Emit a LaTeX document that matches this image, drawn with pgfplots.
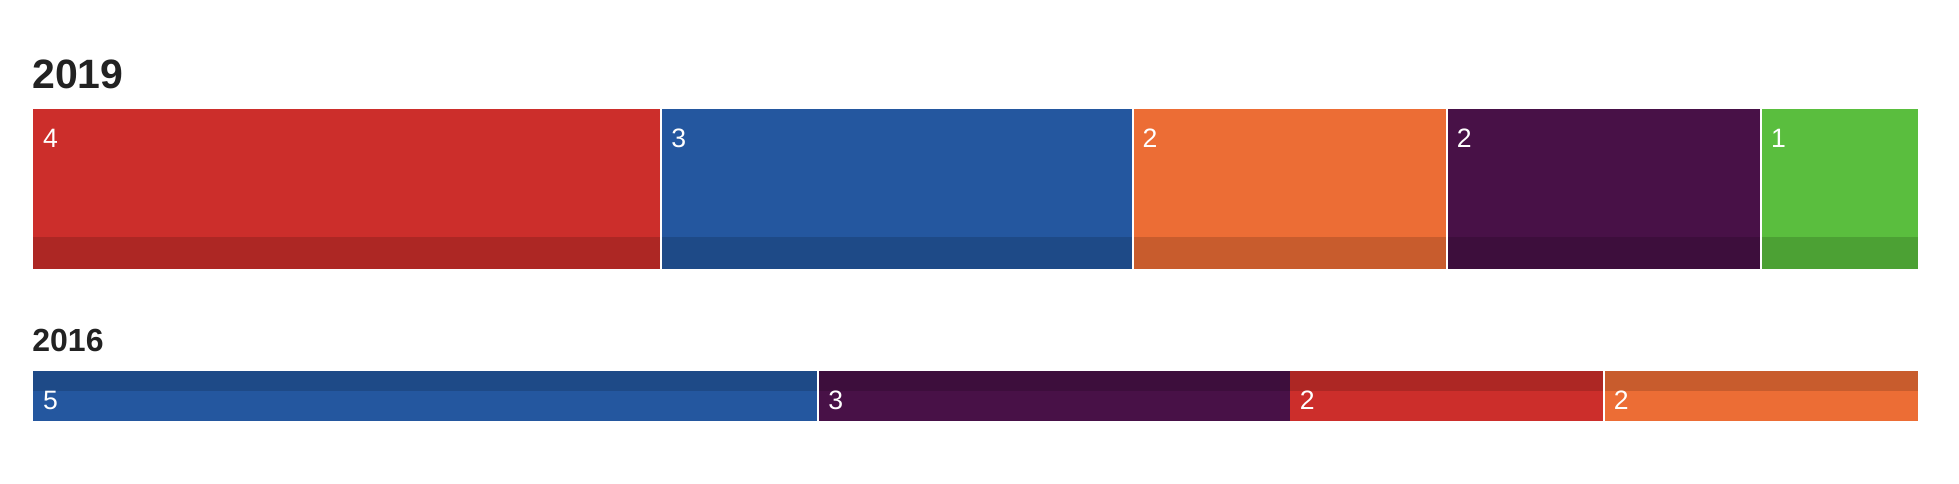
\documentclass[border=0pt]{standalone}
\usepackage{pgfplots}
\pgfplotsset{compat=1.18}
\usepackage{fontspec}
\setmainfont{Liberation Sans}

\definecolor{cRed}{HTML}{CC2E2B}
\definecolor{cBlue}{HTML}{24579F}
\definecolor{cOrange}{HTML}{EC6D35}
\definecolor{cPurple}{HTML}{481147}
\definecolor{cGreen}{HTML}{5ABE3E}

% one segment of a row: from, to (cumulative count), top, bottom (px), colour
\newcommand{\seg}[5]{%
  \addplot[fill=#5, draw=none] coordinates {(#1,#3) (#2,#3) (#2,#4) (#1,#4)} --cycle;}
% value label: start, baseline (px), text
\newcommand{\lab}[3]{%
  \node[anchor=base west, text=white, inner sep=0pt, xshift=4.8pt,
        font=\fontsize{13.3}{14}\selectfont] at (axis cs:#1,#2) {#3};}
% white gap between two segments
\newcommand{\gap}[3]{%
  \addplot[white, line width=1pt] coordinates {(#1,#2) (#1,#3)};}

\begin{document}
\begin{tikzpicture}
\begin{axis}[
    width=979.5pt, height=241.5pt, scale only axis,
    xmin=-0.2101, xmax=12.26,
    ymin=0, ymax=483, y dir=reverse,
    hide axis, clip=false,
]
\path (rel axis cs:0,0) rectangle (rel axis cs:1,1);

% 2019: 4, 3, 2, 2, 1
\node[anchor=base west, inner sep=0pt, xshift=-0.5pt, text={rgb,255:red,34;green,34;blue,34},
      font=\fontsize{20.5}{22}\selectfont\bfseries] at (axis cs:0,88) {2019};
\seg{0}{4}{109}{269}{cRed}
\seg{4}{7}{109}{269}{cBlue}
\seg{7}{9}{109}{269}{cOrange}
\seg{9}{11}{109}{269}{cPurple}
\seg{11}{12}{109}{269}{cGreen}
\addplot[fill=black, fill opacity=0.15, draw=none] coordinates {(0,237) (12,237) (12,269) (0,269)} --cycle;
\gap{4}{109}{269}
\gap{7}{109}{269}
\gap{9}{109}{269}
\gap{11}{109}{269}
\lab{0}{147}{4}
\lab{4}{147}{3}
\lab{7}{147}{2}
\lab{9}{147}{2}
\lab{11}{147}{1}

% 2016: 5, 3, 2, 2
\node[anchor=base west, inner sep=0pt, xshift=-0.5pt, text={rgb,255:red,34;green,34;blue,34},
      font=\fontsize{16}{18}\selectfont\bfseries] at (axis cs:0,351.7) {2016};
\seg{0}{5}{371}{421}{cBlue}
\seg{5}{8}{371}{421}{cPurple}
\seg{8}{10}{371}{421}{cRed}
\seg{10}{12}{371}{421}{cOrange}
\addplot[fill=black, fill opacity=0.15, draw=none] coordinates {(0,371) (12,371) (12,391) (0,391)} --cycle;
\gap{5}{371}{421}
\gap{10}{371}{421}
\lab{0}{409}{5}
\lab{5}{409}{3}
\lab{8}{409}{2}
\lab{10}{409}{2}
\end{axis}
\end{tikzpicture}
\end{document}
